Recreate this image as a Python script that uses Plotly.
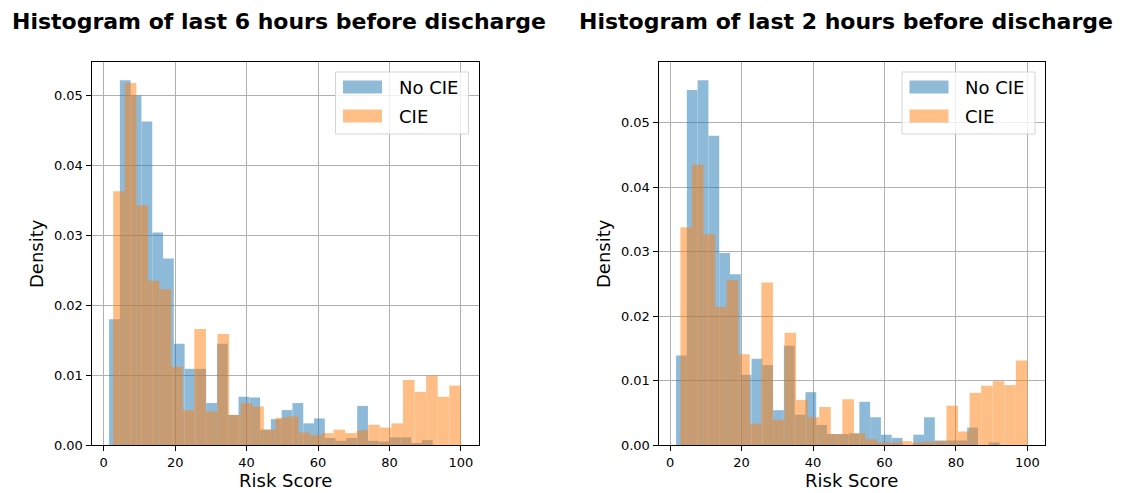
import plotly.graph_objects as go

# ---------------- data (density per bin, 30 bins each) ----------------
titles = ["Histogram of last 6 hours before discharge",
          "Histogram of last 2 hours before discharge"]
series_names = ["No CIE", "CIE"]

# bin ranges (min / max of scores per series)
left_nocie_range = [1.5, 92.1]
left_cie_range = [2.64, 100.0]
right_nocie_range = [1.68, 92.19]
right_cie_range = [2.89, 100.0]

left_nocie = [0.0180, 0.0522, 0.0500, 0.0463, 0.0304, 0.0267, 0.0145, 0.0109, 0.0109, 0.0060,
              0.0145, 0.0043, 0.0069, 0.0068, 0.0022, 0.0037, 0.0050, 0.0060, 0.0031, 0.0038,
              0.0010, 0.0006, 0.0010, 0.0056, 0.0006, 0.0005, 0.0011, 0.0011, 0.0002, 0.0007]
left_cie = [0.0363, 0.0518, 0.0343, 0.0235, 0.0223, 0.0112, 0.0050, 0.0166, 0.0048, 0.0159,
            0.0043, 0.0060, 0.0055, 0.0022, 0.0039, 0.0041, 0.0018, 0.0014, 0.0017, 0.0022,
            0.0017, 0.0021, 0.0029, 0.0025, 0.0031, 0.0093, 0.0076, 0.0099, 0.0069, 0.0085]
right_nocie = [0.0139, 0.0551, 0.0566, 0.0480, 0.0298, 0.0265, 0.0109, 0.0134, 0.0124, 0.0054,
               0.0154, 0.0047, 0.0082, 0.0031, 0.0017, 0.0017, 0.0018, 0.0067, 0.0043, 0.0016,
               0.0011, 0.0000, 0.0016, 0.0043, 0.0007, 0.0007, 0.0007, 0.0027, 0.0000, 0.0004]
right_cie = [0.0338, 0.0435, 0.0327, 0.0214, 0.0256, 0.0141, 0.0033, 0.0252, 0.0039, 0.0174,
             0.0070, 0.0043, 0.0059, 0.0017, 0.0071, 0.0018, 0.0009, 0.0004, 0.0004, 0.0006,
             0.0004, 0.0005, 0.0006, 0.0061, 0.0021, 0.0081, 0.0092, 0.0099, 0.0093, 0.0131]

x_ticks = [0, 20, 40, 60, 80, 100]
y_ticks = [0.00, 0.01, 0.02, 0.03, 0.04, 0.05]
x_label = "Risk Score"
y_label = "Density"

# ---------------- style ----------------
W, H = 1123, 493
colors = ["#1f77b4", "#ff7f0e"]
FONT = "DejaVu Sans"
domains_x = [[91.5 / W, 478.5 / W], [658.5 / W, 1045 / W]]
dom_y = [48 / H, 431 / H]


def bins(rng, vals):
    n = len(vals)
    w = (rng[1] - rng[0]) / n
    return [rng[0] + (i + 0.5) * w for i in range(n)], w


panels = [
    (left_nocie_range, left_nocie, left_cie_range, left_cie),
    (right_nocie_range, right_nocie, right_cie_range, right_cie),
]

fig = go.Figure()
shapes = []
annotations = []

for p, (r0, v0, r1, v1) in enumerate(panels):
    xa = "x" if p == 0 else "x2"
    ya = "y" if p == 0 else "y2"
    for k, (rng, vals) in enumerate([(r0, v0), (r1, v1)]):
        xs, w = bins(rng, vals)
        fig.add_trace(go.Bar(x=xs, y=vals, width=w, name=series_names[k],
                             marker=dict(color=colors[k], line=dict(width=0)),
                             opacity=0.5, xaxis=xa, yaxis=ya, showlegend=False))
    lo = min(r0[0], r1[0])
    hi = max(r0[1], r1[1])
    pad = 0.05 * (hi - lo)
    ymax = max(max(v0), max(v1)) * 1.05
    axis_common = dict(showline=True, linecolor="black", linewidth=1, mirror=True,
                       ticks="outside", ticklen=5, tickwidth=1, tickcolor="black",
                       showgrid=True, gridcolor="#b0b0b0", gridwidth=1, zeroline=False,
                       tickfont=dict(family=FONT, size=13, color="black"), automargin=False)
    xname = "xaxis" if p == 0 else "xaxis2"
    yname = "yaxis" if p == 0 else "yaxis2"
    fig.update_layout(**{
        xname: dict(domain=domains_x[p], range=[lo - pad, hi + pad], tickvals=x_ticks,
                    anchor=ya, **axis_common),
        yname: dict(domain=dom_y, range=[0, ymax], tickvals=y_ticks, tickformat=".2f",
                    anchor=xa, **axis_common),
    })

    d0, d1 = domains_x[p]
    cx = (d0 + d1) / 2
    # title
    annotations.append(dict(text="<b>%s</b>" % titles[p], xref="paper", yref="paper",
                            x=cx - 6 / W, y=1 - 22 / H, xanchor="center", yanchor="middle",
                            showarrow=False, font=dict(family=FONT, size=22, color="black")))
    # axis labels
    annotations.append(dict(text=x_label, xref="paper", yref="paper", x=cx, y=1 - 480 / H,
                            xanchor="center", yanchor="middle", showarrow=False,
                            font=dict(family=FONT, size=18, color="black")))
    annotations.append(dict(text=y_label, xref="paper", yref="paper", x=d0 - 55 / W,
                            y=(dom_y[0] + dom_y[1]) / 2, xanchor="center", yanchor="middle",
                            textangle=-90, showarrow=False,
                            font=dict(family=FONT, size=18, color="black")))
    # legend box
    right_px = d1 * W - 10
    top_px = 72
    box_l = right_px - 133
    shapes.append(dict(type="rect", xref="paper", yref="paper",
                       x0=box_l / W, x1=right_px / W, y0=1 - (top_px + 62) / H, y1=1 - top_px / H,
                       line=dict(color="#d5d5d5", width=1), fillcolor="rgba(255,255,255,0.8)"))
    for k in range(2):
        row_c = top_px + 15 + k * 29
        shapes.append(dict(type="rect", xref="paper", yref="paper",
                           x0=(box_l + 7.5) / W, x1=(box_l + 46.5) / W,
                           y0=1 - (row_c + 6.5) / H, y1=1 - (row_c - 6.5) / H,
                           line=dict(width=0), fillcolor=colors[k], opacity=0.5))
        annotations.append(dict(text=series_names[k], xref="paper", yref="paper",
                                x=(box_l + 61) / W, y=1 - row_c / H, xanchor="left",
                                yanchor="middle", showarrow=False,
                                font=dict(family=FONT, size=18, color="black")))

fig.update_layout(width=W, height=H, margin=dict(l=0, r=0, t=0, b=0),
                  paper_bgcolor="white", plot_bgcolor="white", barmode="overlay",
                  shapes=shapes, annotations=annotations, showlegend=False,
                  font=dict(family=FONT, color="black"))

fig.write_html("out.html")
